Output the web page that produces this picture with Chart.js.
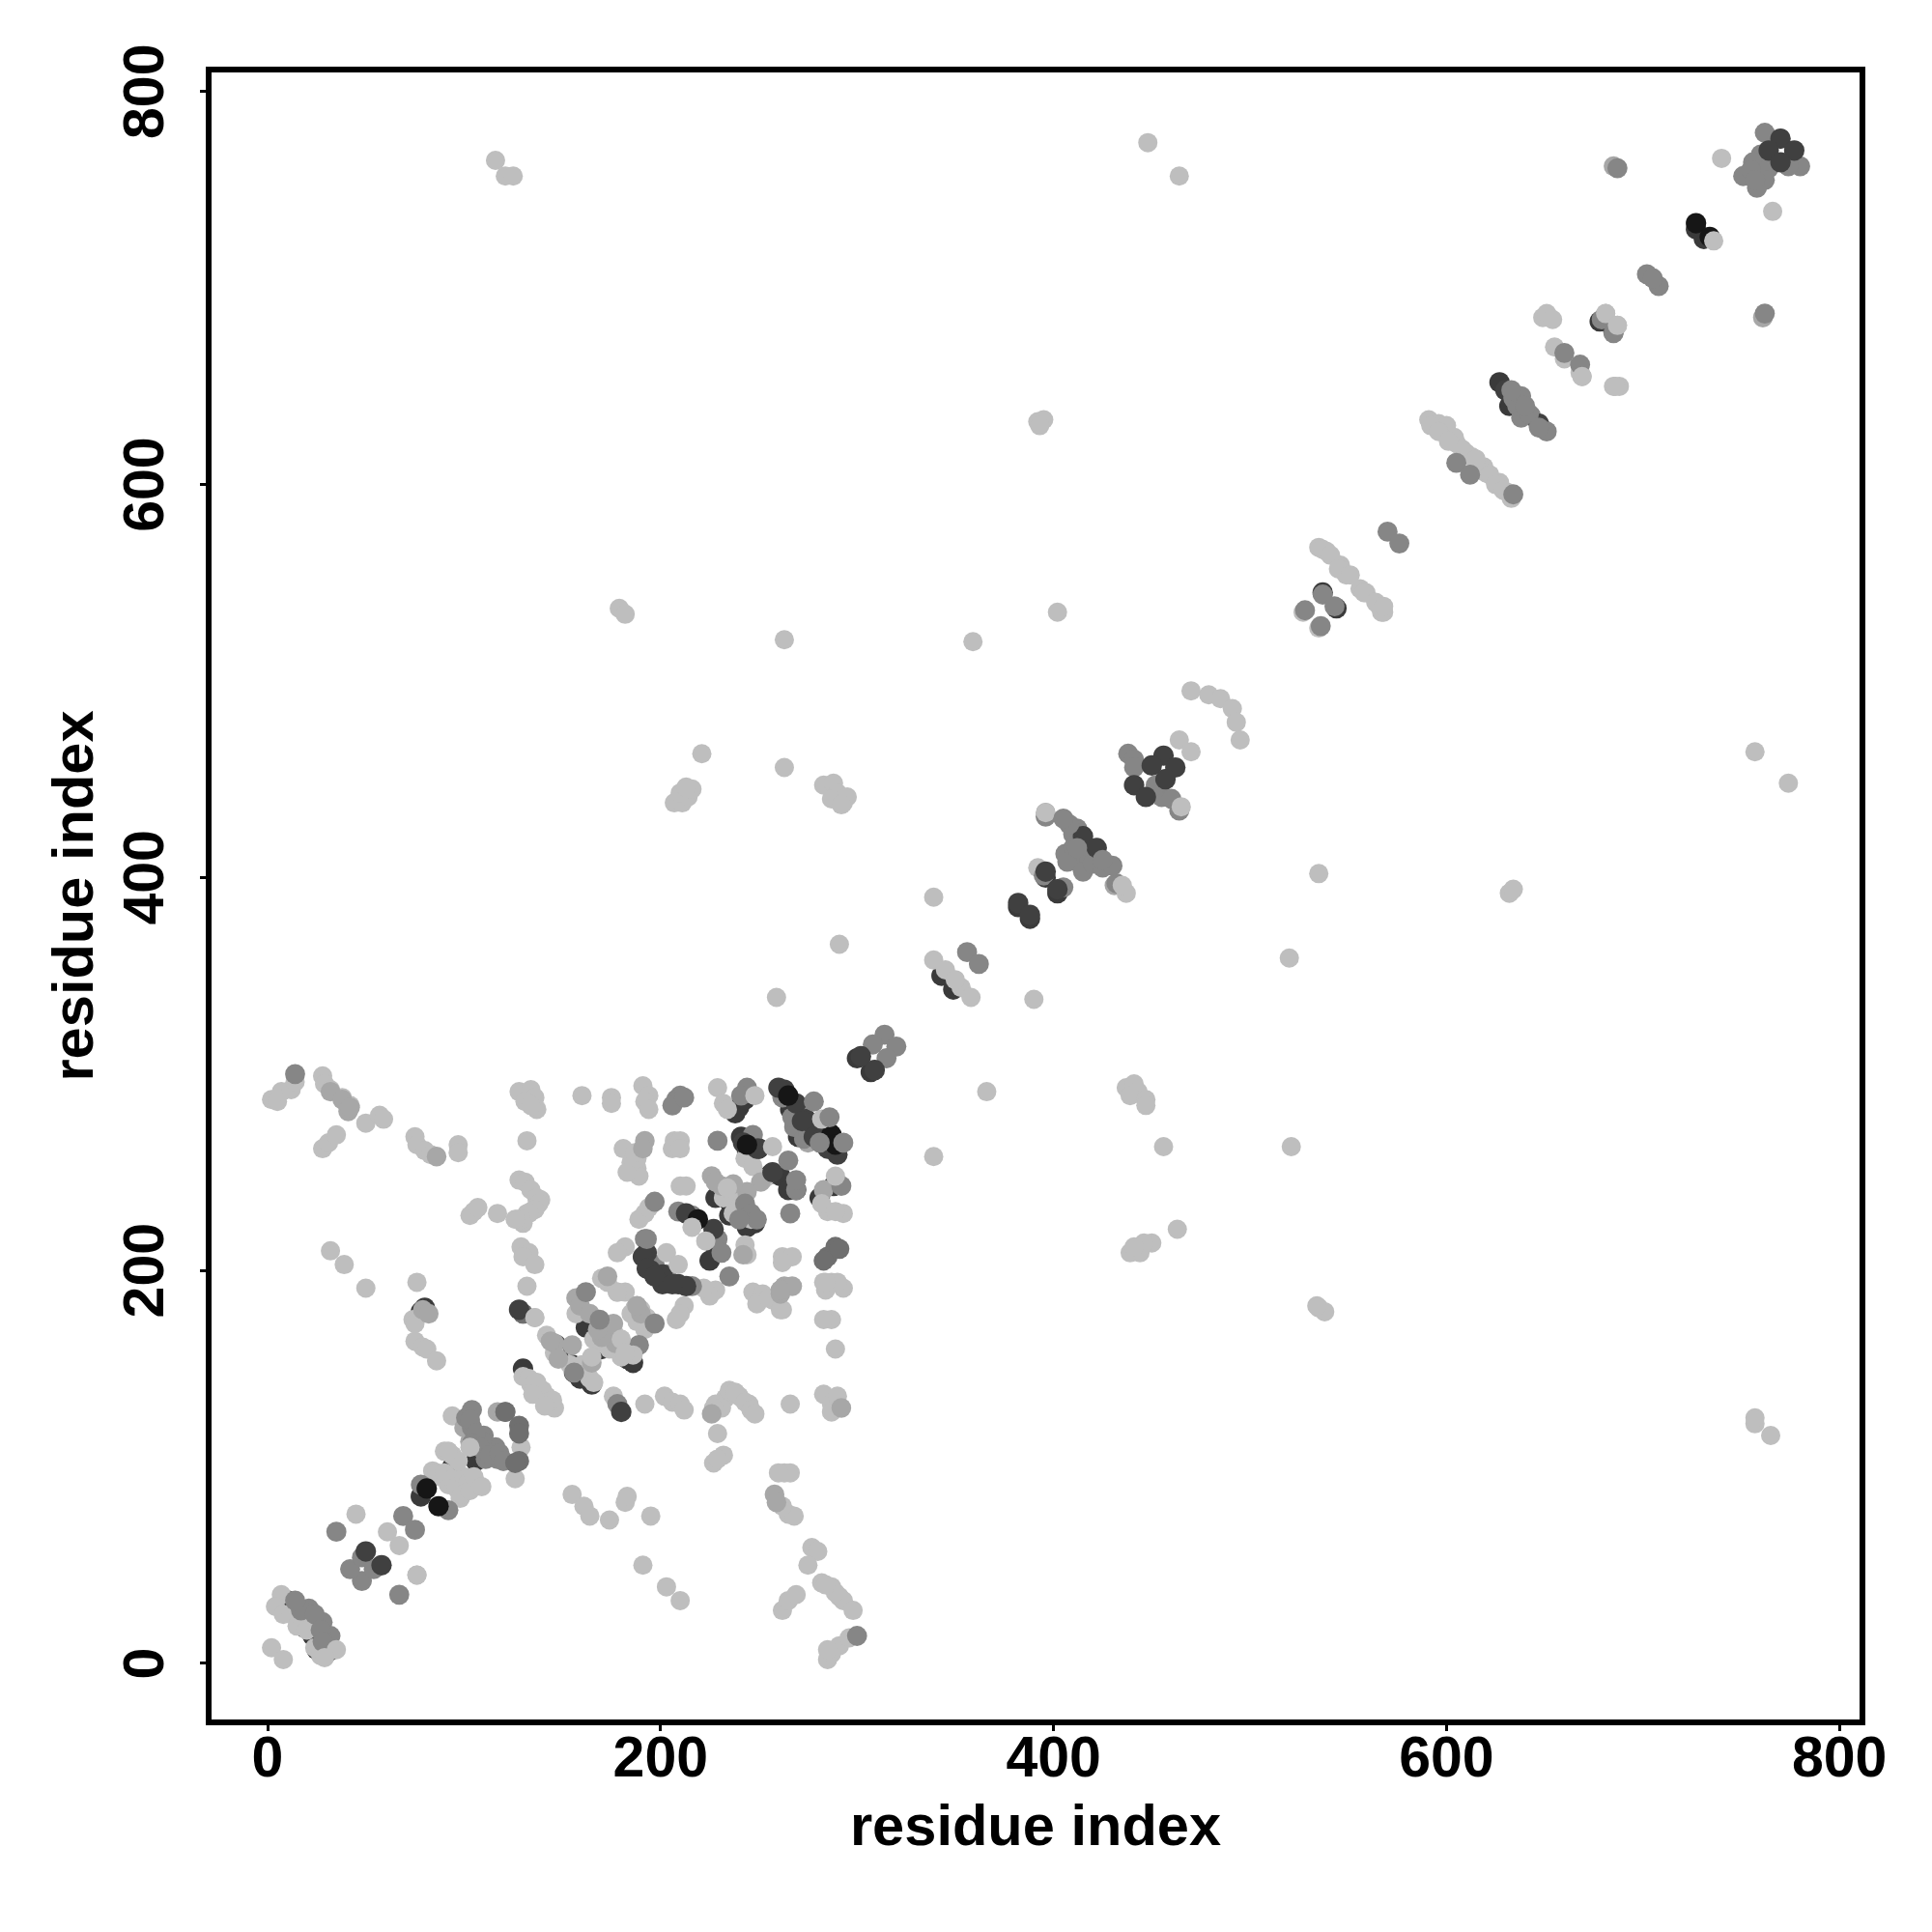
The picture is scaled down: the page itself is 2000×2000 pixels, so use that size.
<!DOCTYPE html>
<html>
<head>
<meta charset="utf-8">
<title>residue contacts</title>
<script src="https://cdn.jsdelivr.net/npm/chart.js@4"></script>
<style>
  html, body { margin: 0; background: #fff; }
  canvas { display: block; }
</style>
</head>
<body>
<canvas id="contactChart" width="2000" height="2000"></canvas>
<script>
const tickValues = [0, 200, 400, 600, 800];

// [x, y] residue pairs, one list per grey level
const underDark = [
  [10,32],[23,14],[31,6],[25,7],[15,25],[19,18],[78,85],[101,94],[94,100],[106,103],[130,150],
  [148,158],[156,148],[165,142],[155,152],[147,162],[178,160],[183,155],[186,153],[240,283],[238,280],
  [243,287],[241,268],[244,261],[250,262],[256,249],[261,248],[265,241],[231,238],[235,235],[243,226],
  [248,224],[288,243],[281,237],[300,308],[307,301],[343,350],[349,343],[382,385],[388,379],[396,400],
  [402,392],[78,179],[80,181],[228,212],[225,205],[286,270],[290,262],[262,290],[266,282],[270,268],[627,652],
  [632,640],[648,629],[685,678],[678,683],[727,730],[731,725],[537,545],[544,537],
  [228,237],[235,228],[244,222],[162,171],[170,160],[159,145]
];
const lightGrey = [
  [116,765],[121,757],[125,757],[448,774],[464,757],[740,766],[766,739],[649,685],[651,687],[654,684],
  [681,687],[687,681],[685,650],[688,650],[392,632],[395,633],[393,630],[535,402],[339,390],[291,366],
  [520,359],[390,338],[259,339],[402,535],[359,520],[263,521],[179,537],[182,534],[221,463],[757,464],
  [774,448],[263,456],[207,438],[211,438],[214,441],[210,443],[216,445],[213,446],[283,447],[288,448],
  [290,443],[287,440],[293,438],[295,441],[292,437],[456,263],[521,263],[339,258],[366,291],[437,293],
  [441,295],[443,291],[439,289],[447,287],[447,284],[463,221],[439,209],[444,209],[450,214],[446,214],
  [441,212],[632,392],[634,394],[757,122],[757,125],[765,116],[535,181],[538,179],[534,182],[339,358],
  [345,353],[353,344],[358,339],[350,348],[464,470],[470,464],[470,495],[479,493],[485,491],[491,486],
  [493,479],[495,470],[535,568],[539,566],[546,559],[549,554],[556,547],[559,545],[566,538],[568,535],
  [537,567],[541,564],[545,557],[551,554],[558,545],[564,540],[567,535],[568,538],
  [527,535],[535,527],[591,633],[594,630],[598,628],[602,624],[605,621],[610,616],[613,614],[619,609],
  [596,631],[600,630],[604,624],[608,618],[615,613],[620,606],[627,601],[631,596],[592,630],[596,627],[601,622],
  [622,605],[625,600],[629,597],[633,593],[655,670],[660,664],[668,657],[669,655],[686,650],[392,405],
  [2,287],[5,286],[7,291],[12,292],[14,296],[28,299],[29,295],[32,292],[38,288],[42,284],[50,275],
  [57,279],[59,277],[28,262],[31,265],[35,269],[75,268],[76,264],[80,261],[83,259],[97,264],[97,260],
  [128,291],[134,292],[136,288],[131,286],[137,282],[134,284],[160,289],[175,288],[175,285],[191,294],
  [194,289],[192,286],[194,282],[229,293],[232,285],[234,282],[207,266],[210,266],[206,262],[210,262],
  [181,262],[185,255],[188,252],[189,248],[183,250],[188,257],[187,260],[132,266],[210,243],[213,243],
  [192,229],[189,226],[194,232],[243,213],[244,208],[262,207],[267,207],[262,204],[283,194],[287,194],
  [293,191],[290,194],[284,190],[228,190],[225,187],[222,191],[247,189],[252,188],[257,185],[249,183],
  [262,180],[255,186],[182,212],[178,209],[182,189],[178,189],[188,182],[212,182],[210,178],[208,175],
  [117,229],[127,226],[132,229],[137,233],[134,230],[130,224],[139,236],[129,212],[133,209],[130,207],
  [136,203],[132,192],[136,176],[142,167],[130,146],[134,142],[142,136],[146,130],[144,134],[138,140],
  [137,143],[176,136],[192,132],[202,136],[206,133],[210,132],[212,129],[233,135],[228,132],[235,139],
  [231,130],[240,136],[245,132],[229,117],[232,106],[227,102],[229,104],[263,97],[266,97],[260,97],
  [265,76],[268,75],[262,80],[277,59],[280,57],[275,50],[282,41],[287,39],[291,34],[293,32],[298,27],
  [289,36],[284,40],[262,27],[265,32],[269,35],[285,2],[287,5],[291,9],[296,13],[285,7],[266,132],
  [283,137],[287,132],[290,136],[287,128],[289,160],[287,175],[283,175],[284,194],[261,180],[32,210],
  [39,203],[50,191],[76,194],[75,164],[79,161],[81,160],[86,154],[2,8],[8,2],[155,86],[161,80],[164,75],
  [174,73],[182,82],[183,85],[195,75],[191,50],[203,39],[210,32],[76,45],[45,76],[61,67],[67,60],
  [94,126],[90,108],[84,98],[88,95],[92,91],[97,88],[98,84],[101,90],[7,35],[4,29],[8,25],[16,21],
  [129,110],[126,94],[74,175],[75,173],
  [128,246],[131,245],[134,241],[137,237],[138,234],[136,231],[133,229],[129,226],[126,226],[105,230],
  [103,228],[107,232],[238,138],[243,133],[246,129],[248,127],[227,130],
  [178,189],[187,181],[190,180],[193,176],[185,178],[188,174],[192,170],[170,196],[173,194],
  [157,178],[166,165],[170,163],[174,160],[173,170],[177,167],[180,163],[180,156],[160,152],[154,152],
  [146,158],[164,145],[133,145],[140,139],[145,134],[136,143],[135,137],[141,131],
  [86,97],[90,97],[94,94],[96,90],[100,95],[102,92],[106,92],[99,86],[103,88],[94,106],[97,103],[92,108],
  [12,25],[15,19],[18,21],[20,17],[24,8],[27,4],[233,239],[238,235],[240,233],[243,229],[246,226],
  [237,229],[232,237],[243,257],[247,253],[253,247],[275,271]
];
const midLight = [
  [41,281],[32,291],[38,287],[42,283],[86,258],[192,266],[191,262],[226,248],[231,243],[228,245],
  [283,241],[242,208],[263,192],[267,192],[261,188],[261,190],[292,130],[258,86],[259,82],[226,127],
  [157,186],[159,182],[175,168],[173,197],[177,163],[146,163],[144,164],[155,162],[148,155],[117,128],
  [100,120],[103,123],[103,113],[79,180],[82,178],[165,153],[176,173],[170,166],[190,178],[188,182],
  [251,245],[244,240],[237,244],[275,265],[396,433],[431,396],[685,762],[761,685],[164,178],[168,170]
];
const midGrey = [
  [14,300],[229,266],[266,229],[197,235],[235,197],[197,173],[189,162],[169,175],[162,189],[156,148],
  [243,234],[246,229],[249,226],[209,230],[216,228],[229,216],[231,209],[192,216],[197,203],[216,192],
  [196,203],[203,198],[130,178],[178,132],[300,14],[210,289],[208,287],[206,284],[212,288],[244,293],
  [241,289],[268,273],[273,267],[247,269],[292,243],[267,278],[275,271],[270,281],[262,288],
  [21,28],[17,27],[28,21],[14,32],[32,14],[48,42],[42,48],[48,54],[54,48],[67,35],[35,67],[78,91],
  [92,78],[104,129],[104,120],[110,116],[116,110],[117,104],[111,104],[109,113],[121,128],[69,75],[75,68],
  [101,125],[103,124],[106,117],[104,112],[108,110],[113,106],[118,107],[120,103],[24,25],[27,17],[28,11],
  [314,320],[320,314],[308,315],[315,308],[356,362],[362,356],[396,431],[406,412],
  [412,408],[410,422],[418,410],[432,397],[438,463],[441,460],[441,456],
  [455,441],[460,440],[452,447],[464,434],[570,576],[576,570],[537,544],[543,538],[528,536],[536,528],
  [605,611],[612,605],[634,595],[636,640],[638,634],[643,635],[660,667],[668,661],[679,684],
  [685,677],[687,761],[762,687],[762,779],[780,762],[774,762],[760,768],[756,764],[764,761],[751,757],
  [758,751],[762,755],[755,760],[757,755],[702,707],[708,701],[705,705],[405,395],[395,401],
  [412,425],[415,418],[410,415],[407,408],[415,403],[420,407],[425,405]
];
const midDark = [[121,128],[128,121],[128,117],[128,103],[126,102],[289,212],[285,207],[283,205],[291,211],[130,178]];
const darkGrey = [
  [50,57],[58,50],[128,180],[180,128],[193,209],[195,200],[201,198],[201,193],[209,193],[213,192],
  [191,207],[193,201],[197,197],[206,193],
  [213,229],[227,221],[250,262],[257,250],[269,241],[263,292],[269,285],[274,277],[277,275],[396,403],
  [272,276],[278,268],[283,268],[285,262],[290,259],[260,293],[242,265],[249,262],
  [382,387],[388,381],[402,394],[415,421],[422,415],[456,462],[450,457],[462,456],
  [457,450],[441,447],[447,441],[770,776],[777,770],[764,770],[770,764],[302,309],[309,302],[647,631],[630,648]
];
const nearBlack = [[81,89],[87,80],[219,226],[265,289],[287,269],[289,264],[244,264],[727,733],[734,726]];
const lightTop = [[203,209],[209,203],[216,222],[223,215],[257,263],[248,289],[282,277],[289,248],[285,230],[293,229],[282,234],[289,230],[35,7],[29,3],[76,45],[136,176],[736,724],[669,655],[681,687],[687,681],[165,156],[166,143],[180,165],[186,157],[182,158],[105,95],[109,90],[234,242],[103,110],[465,436],[437,392],[435,396],[396,433]];
const midTop = [
  [193,216],[269,241],[281,265],[240,226],[278,286],[286,278],[293,265],[265,256],[269,246],[430,406],
  [425,409],[412,415],[408,427],[405,430],[634,644],[637,640],[638,645],[642,636],[651,627],[647,629],[633,648],[640,640]
];

// bottom layer first: points, grey, disc radius (darker discs are a bit bigger in the original)
const layers = [
  [underDark, "#3a3a3a", 10.6],
  [lightGrey, "#bebebe", 10],
  [midLight, "#a7a7a7", 10.2],
  [midGrey, "#868686", 10.4],
  [midDark, "#6f6f6f", 10.4],
  [darkGrey, "#404040", 10.6],
  [nearBlack, "#161616", 10.6],
  [lightTop, "#bebebe", 10],
  [midTop, "#868686", 10.4]
];

const tickFont = { family: "Liberation Sans", size: 59, weight: "bold" };
const titleFont = { family: "Liberation Sans", size: 59.6, weight: "bold" };

// frame round the plot, R box() style
const boxPlugin = {
  id: "box",
  afterDatasetsDraw(chart) {
    const { ctx, chartArea: a } = chart;
    ctx.save();
    ctx.strokeStyle = "#000";
    ctx.lineWidth = 6;
    ctx.strokeRect(a.left, a.top, a.right - a.left, a.bottom - a.top);
    ctx.restore();
  }
};

function axis(min, max, extra) {
  return Object.assign({
    type: "linear",
    min,
    max,
    afterBuildTicks: s => { s.ticks = tickValues.map(v => ({ value: v })); },
    border: { display: false },
    grid: { drawOnChartArea: false, drawTicks: true, tickLength: 9, tickWidth: 3, tickColor: "#000" }
  }, extra);
}

new Chart(document.getElementById("contactChart"), {
  type: "scatter",
  data: {
    // chart.js paints the lowest order last, so the higher i gets the lower order
    datasets: layers.map(([points, colour, radius], i) => ({
      data: points.map(([x, y]) => ({ x, y })),
      order: layers.length - i,
      backgroundColor: colour,
      borderWidth: 0,
      pointRadius: radius,
      pointHoverRadius: radius
    }))
  },
  options: {
    responsive: false,
    animation: false,
    layout: { padding: { top: 72, right: 72 } },
    plugins: { legend: { display: false }, tooltip: { enabled: false } },
    scales: {
      x: axis(-30, 811.7, {
        afterFit: s => { s.height = 217; },
        ticks: { color: "#000", font: tickFont, padding: -5, maxRotation: 0, autoSkip: false },
        title: { display: true, text: "residue index", color: "#000", font: titleFont, padding: { top: 0, bottom: 71 } }
      }),
      y: axis(-30, 811.2, {
        afterFit: s => { s.width = 216; },
        ticks: { color: "#000", font: tickFont, padding: 5, minRotation: 90, maxRotation: 90, crossAlign: "center", autoSkip: false },
        title: { display: true, text: "residue index", color: "#000", font: titleFont, padding: { top: 44, bottom: 0 } }
      })
    }
  },
  plugins: [boxPlugin]
});
</script>
</body>
</html>
